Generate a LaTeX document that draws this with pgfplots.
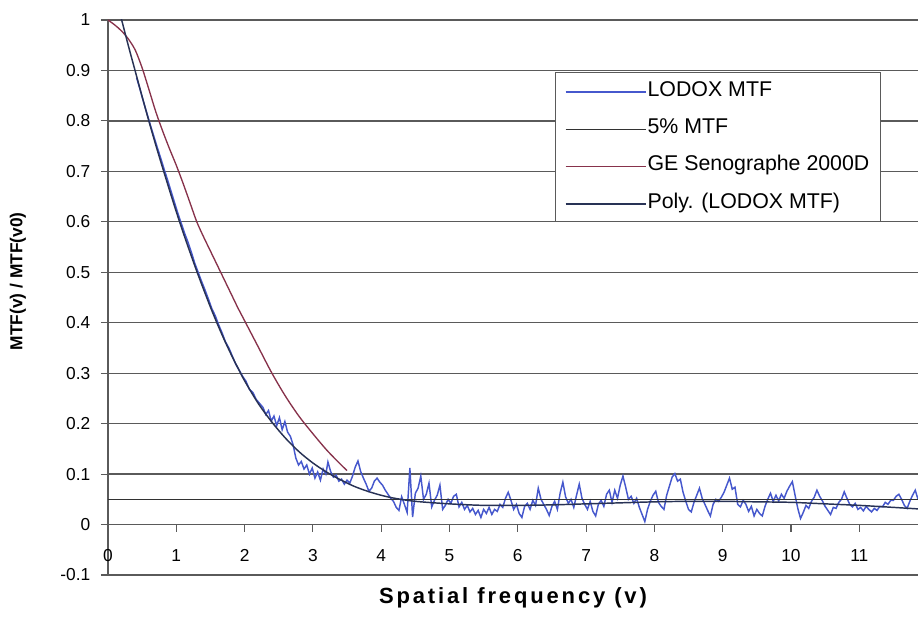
\documentclass[border=0pt]{standalone}
\usepackage{fontspec}
\setmainfont{Liberation Sans}
\newfontfamily\xlabfont[LetterSpace=13]{Liberation Sans}
\usepackage{pgfplots}
\pgfplotsset{compat=1.18}
\usetikzlibrary{calc}
\definecolor{lodox}{RGB}{70,88,205}
\definecolor{ge}{RGB}{135,50,75}
\definecolor{poly}{RGB}{40,50,85}
\definecolor{five}{RGB}{50,50,50}
\definecolor{gridc}{RGB}{90,90,90}
\begin{document}
\begin{tikzpicture}
\begin{axis}[
  scale only axis,
  width=607.5pt, height=416.25pt,
  xmin=0, xmax=11.86, ymin=-0.1, ymax=1,
  axis x line=middle, axis y line=left,
  x axis line style={-, gridc, line width=0.9pt},
  y axis line style={-, gridc, line width=0.9pt},
  xtick={0,1,2,3,4,5,6,7,8,9,10,11},
  ytick={-0.1,0,0.1,0.2,0.3,0.4,0.5,0.6,0.7,0.8,0.9,1},
  hide obscured x ticks=false,
  hide obscured y ticks=false,
  tick align=outside,
  major tick length=5.25pt,
  tick style={gridc, line width=0.8pt},
  ymajorgrids=true,
  grid style={gridc, line width=0.9pt},
  /pgf/number format/assume math mode=true,
  /pgf/number format/fixed,
  /pgf/number format/precision=1,
  xticklabel style={font=\fontsize{13}{15}\selectfont, anchor=center, yshift=-18pt},
  yticklabel style={font=\fontsize{13}{15}\selectfont, anchor=east, xshift=-4.5pt},
  xlabel={\xlabfont\bfseries Spatial frequency (v)},
  ylabel={\bfseries MTF(v) / MTF(v0)},
  xlabel style={font=\fontsize{16.5}{19}\selectfont, at={(axis description cs:0.5,-0.0414)}, anchor=center},
  ylabel style={font=\fontsize{13}{15}\selectfont, at={(axis description cs:-0.1111,0.529)}, anchor=center},
  legend style={at={(axis description cs:0.5519,0.9069)}, anchor=north west,
    draw=gridc, fill=white, line width=0.7pt,
    font=\fontsize{16}{19}\selectfont,
    inner xsep=7pt, inner ysep=6pt, row sep=12pt,
    nodes={inner sep=1pt, text height=11pt, text depth=3pt}},
  legend cell align=left,
  legend image code/.code={\draw[#1] (0pt,-1pt) -- (60pt,-1pt);},
]
\coordinate (sw) at (rel axis cs:0,0);
\coordinate (ne) at (rel axis cs:1,1);

% LODOX MTF
\addplot[lodox, line width=1.1pt] table {
0.42 0.885
0.47 0.862
0.52 0.838
0.57 0.815
0.62 0.792
0.67 0.770
0.72 0.748
0.77 0.727
0.82 0.705
0.87 0.684
0.92 0.662
0.97 0.640
1.02 0.618
1.07 0.598
1.12 0.578
1.17 0.560
1.22 0.540
1.27 0.518
1.32 0.500
1.37 0.482
1.42 0.465
1.47 0.447
1.52 0.428
1.57 0.414
1.62 0.396
1.67 0.380
1.72 0.362
1.77 0.350
1.82 0.334
1.87 0.318
1.92 0.306
1.97 0.294
2.02 0.284
2.07 0.268
2.12 0.262
2.17 0.248
2.22 0.240
2.27 0.232
2.31 0.218
2.35 0.226
2.39 0.205
2.43 0.215
2.47 0.196
2.51 0.212
2.55 0.188
2.59 0.204
2.63 0.183
2.67 0.175
2.71 0.158
2.75 0.132
2.79 0.118
2.83 0.125
2.87 0.110
2.91 0.118
2.95 0.100
2.99 0.112
3.03 0.092
3.07 0.104
3.11 0.088
3.15 0.110
3.19 0.100
3.22 0.124
3.26 0.105
3.30 0.094
3.34 0.098
3.38 0.086
3.42 0.090
3.46 0.080
3.50 0.088
3.54 0.082
3.58 0.096
3.62 0.114
3.66 0.126
3.70 0.105
3.74 0.092
3.78 0.080
3.82 0.066
3.86 0.072
3.90 0.086
3.94 0.092
3.98 0.084
4.02 0.078
4.06 0.068
4.10 0.060
4.14 0.052
4.18 0.046
4.22 0.034
4.26 0.028
4.30 0.055
4.34 0.040
4.38 0.024
4.42 0.112
4.46 0.015
4.50 0.062
4.54 0.072
4.58 0.096
4.62 0.050
4.66 0.060
4.70 0.082
4.74 0.035
4.78 0.048
4.82 0.058
4.86 0.078
4.90 0.030
4.94 0.038
4.98 0.050
5.02 0.042
5.06 0.056
5.10 0.060
5.14 0.035
5.18 0.044
5.22 0.030
5.26 0.038
5.30 0.025
5.34 0.032
5.38 0.020
5.42 0.028
5.46 0.014
5.50 0.030
5.54 0.022
5.58 0.034
5.62 0.020
5.66 0.030
5.70 0.026
5.74 0.040
5.78 0.034
5.82 0.052
5.86 0.064
5.90 0.048
5.94 0.030
5.98 0.040
6.02 0.022
6.06 0.014
6.10 0.036
6.14 0.042
6.18 0.030
6.22 0.048
6.26 0.038
6.30 0.072
6.34 0.050
6.38 0.040
6.42 0.030
6.46 0.018
6.50 0.036
6.54 0.046
6.58 0.030
6.62 0.062
6.66 0.084
6.70 0.055
6.74 0.042
6.78 0.050
6.82 0.034
6.86 0.058
6.90 0.080
6.94 0.052
6.98 0.040
7.02 0.030
7.06 0.046
7.10 0.026
7.14 0.017
7.18 0.040
7.22 0.048
7.26 0.036
7.30 0.060
7.34 0.068
7.38 0.044
7.42 0.068
7.46 0.052
7.50 0.078
7.54 0.096
7.58 0.074
7.62 0.050
7.66 0.056
7.70 0.042
7.74 0.052
7.78 0.034
7.82 0.020
7.86 0.006
7.90 0.030
7.94 0.046
7.98 0.058
8.02 0.066
8.06 0.044
8.10 0.036
8.14 0.030
8.18 0.058
8.22 0.076
8.26 0.094
8.30 0.101
8.34 0.086
8.38 0.090
8.42 0.064
8.46 0.046
8.50 0.030
8.54 0.025
8.58 0.044
8.62 0.058
8.66 0.072
8.70 0.052
8.74 0.040
8.78 0.028
8.82 0.017
8.86 0.040
8.90 0.050
8.94 0.046
8.98 0.054
9.02 0.064
9.06 0.078
9.10 0.092
9.14 0.070
9.18 0.074
9.22 0.040
9.26 0.035
9.30 0.048
9.34 0.040
9.38 0.026
9.42 0.036
9.46 0.017
9.50 0.030
9.54 0.022
9.58 0.017
9.62 0.036
9.66 0.050
9.70 0.062
9.74 0.046
9.78 0.058
9.82 0.047
9.86 0.060
9.90 0.052
9.94 0.066
9.98 0.076
10.02 0.085
10.06 0.058
10.10 0.032
10.14 0.012
10.18 0.024
10.22 0.038
10.26 0.032
10.30 0.046
10.34 0.054
10.38 0.068
10.42 0.056
10.46 0.047
10.50 0.036
10.54 0.028
10.58 0.020
10.62 0.034
10.66 0.032
10.70 0.044
10.74 0.050
10.78 0.065
10.82 0.052
10.86 0.040
10.90 0.035
10.94 0.042
10.98 0.030
11.02 0.034
11.06 0.027
11.10 0.036
11.14 0.030
11.18 0.025
11.22 0.032
11.26 0.028
11.30 0.036
11.34 0.035
11.38 0.044
11.42 0.040
11.46 0.048
11.50 0.048
11.54 0.056
11.58 0.060
11.62 0.050
11.66 0.038
11.70 0.032
11.74 0.046
11.78 0.058
11.82 0.068
11.86 0.050
};
\addlegendentry{LODOX MTF}

% 5% MTF
\addplot[five, line width=0.9pt] coordinates {(0,0.05) (11.86,0.05)};
\addlegendentry{5\% MTF}

% GE Senographe 2000D
\addplot[ge, line width=1.0pt, smooth] table {
0 1.000
0.1 0.990
0.2 0.978
0.3 0.962
0.4 0.940
0.5 0.905
0.6 0.862
0.7 0.818
0.8 0.780
0.9 0.745
1.0 0.712
1.1 0.676
1.2 0.638
1.3 0.600
1.4 0.570
1.5 0.542
1.6 0.514
1.7 0.486
1.8 0.458
1.9 0.430
2.0 0.404
2.2 0.352
2.4 0.300
2.6 0.254
2.8 0.214
3.0 0.180
3.2 0.148
3.4 0.120
3.5 0.107
};
\addlegendentry{GE Senographe 2000D}

% Poly. (LODOX MTF)
\addplot[poly, line width=1.1pt, smooth] table {
0.15 1.025
0.2 1.0
0.3 0.948
0.4 0.898
0.5 0.848
0.6 0.799
0.7 0.752
0.8 0.707
0.9 0.663
1.0 0.620
1.1 0.579
1.2 0.540
1.3 0.502
1.4 0.466
1.5 0.431
1.6 0.398
1.7 0.367
1.8 0.338
1.9 0.311
2.0 0.285
2.2 0.240
2.4 0.203
2.6 0.171
2.8 0.144
3.0 0.122
3.2 0.104
3.4 0.089
3.6 0.076
3.8 0.066
4.0 0.058
4.2 0.052
4.5 0.046
5.0 0.041
5.5 0.038
6.0 0.038
6.5 0.039
7.0 0.041
7.5 0.043
8.0 0.045
8.5 0.046
9.0 0.046
9.5 0.045
10.0 0.044
10.5 0.041
11.0 0.038
11.5 0.034
11.86 0.031
};
\addlegendentry{Poly. (LODOX MTF)}
\end{axis}
\pgfresetboundingbox
\path[use as bounding box] ($(sw)+(-81pt,-47.25pt)$) rectangle ($(ne)+(0pt,15pt)$);
\end{tikzpicture}
\end{document}
